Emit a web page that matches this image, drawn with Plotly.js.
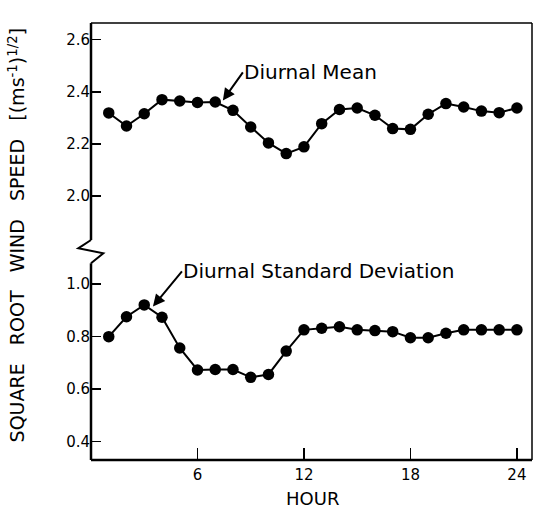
<!DOCTYPE html>
<html>
<head>
<meta charset="utf-8">
<script src="https://cdn.plot.ly/plotly-3.0.1.min.js"></script>
<style>html,body{margin:0;padding:0;background:#fff;}#chart{width:537px;height:526px;}</style>
</head>
<body>
<div id="chart"></div>
<script>
const hours = [1,2,3,4,5,6,7,8,9,10,11,12,13,14,15,16,17,18,19,20,21,22,23,24];
const diurnalMean = [2.319,2.269,2.316,2.370,2.365,2.359,2.361,2.329,2.265,2.204,2.163,2.189,
                     2.278,2.332,2.338,2.310,2.259,2.256,2.314,2.355,2.342,2.326,2.320,2.338];
const diurnalSD = [0.800,0.876,0.921,0.874,0.757,0.673,0.675,0.675,0.645,0.656,0.745,0.826,
                   0.832,0.838,0.826,0.823,0.819,0.796,0.796,0.813,0.826,0.826,0.826,0.826];
const xTicks = [6,12,18,24];
const upperTicks = [2.0,2.2,2.4,2.6];
const lowerTicks = [0.4,0.6,0.8,1.0];

const FONT = 'DejaVu Sans';
const marker = {size: 11.5, color: '#000'};
const line = {color: '#000', width: 2};

const traces = [
  {x: hours, y: diurnalMean, yaxis: 'y2', mode: 'lines+markers', marker: marker, line: line, hoverinfo: 'skip'},
  {x: hours, y: diurnalSD, yaxis: 'y', mode: 'lines+markers', marker: marker, line: line, hoverinfo: 'skip'}
];

const split = 0.478;
const yax = {
  showgrid: false, zeroline: false, showline: false,
  ticks: 'inside', ticklen: 10, tickwidth: 1.5, tickcolor: '#000',
  tickformat: '.1f', tickfont: {family: FONT, size: 15, color: '#000'}
};

const layout = {
  width: 537, height: 526,
  margin: {l: 91, r: 5, t: 23, b: 66},
  paper_bgcolor: '#fff', plot_bgcolor: '#fff',
  showlegend: false,
  font: {family: FONT, color: '#000'},
  xaxis: {
    range: [0, 24.85], tickvals: xTicks, showgrid: false, zeroline: false, showline: false,
    ticks: 'inside', ticklen: 12, tickwidth: 1.5, tickcolor: '#000', ticklabelstandoff: 4,
    tickfont: {family: FONT, size: 15, color: '#000'}, anchor: 'y'
  },
  yaxis: Object.assign({}, yax, {domain: [0, split], range: [0.330, 1.126], tickvals: lowerTicks}),
  yaxis2: Object.assign({}, yax, {domain: [split, 1], range: [1.789, 2.664], tickvals: upperTicks, anchor: 'x'}),
  shapes: [
    {type: 'line', xref: 'paper', yref: 'paper', x0: 0, x1: 1, y0: 0, y1: 0, line: {color: '#000', width: 2.5}},
    {type: 'line', xref: 'paper', yref: 'paper', x0: 0, x1: 1, y0: 1, y1: 1, line: {color: '#000', width: 1.5}},
    {type: 'line', xref: 'paper', yref: 'paper', x0: 1, x1: 1, y0: 0, y1: 1, line: {color: '#000', width: 1.5}},
    {type: 'line', xref: 'paper', yref: 'paper', x0: 0, x1: 0, y0: 0.5034, y1: 1, line: {color: '#000', width: 2.5}},
    {type: 'line', xref: 'paper', yref: 'paper', x0: 0, x1: 0, y0: 0, y1: 0.4501, line: {color: '#000', width: 2.5}},
    {type: 'path', xref: 'paper', yref: 'paper',
     path: 'M 0 0.5034 L -0.0288 0.4844 L 0.0279 0.4730 L 0 0.4501',
     line: {color: '#000', width: 2}}
  ],
  annotations: [
    {xref: 'x', yref: 'y2', x: 7.43, y: 2.367, xanchor: 'left', yanchor: 'middle',
     showarrow: true, arrowhead: 2, arrowsize: 1.2, arrowwidth: 2, arrowcolor: '#000',
     ax: 20, ay: -28, borderpad: 0,
     text: 'Diurnal Mean', font: {family: FONT, size: 20, color: '#000'}},
    {xref: 'x', yref: 'y', x: 3.49, y: 0.915, xanchor: 'left', yanchor: 'middle',
     showarrow: true, arrowhead: 2, arrowsize: 1.2, arrowwidth: 2, arrowcolor: '#000',
     ax: 29, ay: -35, borderpad: 0,
     text: 'Diurnal Standard Deviation', font: {family: FONT, size: 20, color: '#000'}},
    {xref: 'paper', yref: 'paper', x: -0.169, y: 0.515, xanchor: 'center', yanchor: 'middle', showarrow: false,
     textangle: -90, text: 'SQUARE   ROOT   WIND   SPEED   [(ms<sup>-1</sup>)<sup>1/2</sup>]',
     font: {family: FONT, size: 19, color: '#000'}},
    {xref: 'paper', yref: 'paper', x: 0.503, y: -0.0885, xanchor: 'center', yanchor: 'middle', showarrow: false,
     text: 'HOUR', font: {family: FONT, size: 18, color: '#000'}}
  ]
};

Plotly.newPlot('chart', traces, layout, {staticPlot: true, displayModeBar: false});
</script>
</body>
</html>
